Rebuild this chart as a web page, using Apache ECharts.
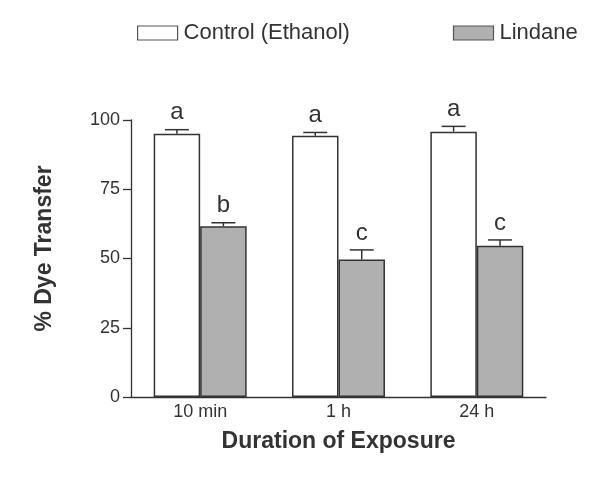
<!DOCTYPE html>
<html><head><meta charset="utf-8">
<script src="https://cdn.jsdelivr.net/npm/echarts@6/dist/echarts.min.js"></script>
<style>html,body{margin:0;padding:0;background:#fff}#c{width:600px;height:487px}</style>
</head><body><div id="c"></div>
<script>
var categories = ['10 min', '1 h', '24 h'];
var controlValues = [95.0, 94.3, 95.8];
var controlErr = [1.5, 1.2, 1.9];
var controlLetters = ['a', 'a', 'a'];
var lindaneValues = [61.6, 49.6, 54.6];
var lindaneErr = [1.3, 3.5, 2.1];
var lindaneLetters = ['b', 'c', 'c'];
var yTicks = [0, 25, 50, 75, 100];

var chart = echarts.init(document.getElementById('c'));
var font = 'Liberation Sans, Arial, sans-serif';
var gray = '#b0b0b0';

function errSeries(name, vals, errs, letters, seriesIdx) {
  var data = vals.map(function (v, i) { return [i, v, errs[i], letters[i]]; });
  return {
    type: 'custom', name: name + ' err', z: 5,
    data: data,
    renderItem: function (params, api) {
      var i = api.value(0), v = api.value(1), e = api.value(2);
      var letter = data[params.dataIndex][3];
      var base = api.coord([i, v]);
      var top = api.coord([i, v + e]);
      var bw = api.size([1, 0])[0] * 0.336;
      var x = base[0] + (seriesIdx === 0 ? -bw / 2 : bw / 2);
      var cap = 12;
      var st = { stroke: '#333', lineWidth: 1.5 };
      return { type: 'group', children: [
        { type: 'line', shape: { x1: x, y1: base[1], x2: x, y2: top[1] }, style: st },
        { type: 'line', shape: { x1: x - cap, y1: top[1], x2: x + cap, y2: top[1] }, style: st },
        { type: 'text', style: { text: letter, x: x, y: top[1] - 5, align: 'center', verticalAlign: 'bottom',
          font: '24px ' + font, fill: '#333' } }
      ] };
    }
  };
}

chart.setOption({
  animation: false,
  backgroundColor: '#fff',
  legend: {
    top: 17, left: 132, itemWidth: 40, itemHeight: 14, itemGap: 103, icon: 'rect',
    textStyle: { fontFamily: font, fontSize: 22, color: '#333', padding: [0, 0, 0, 1] },
    data: [
      { name: 'Control (Ethanol)', itemStyle: { color: '#fff', borderColor: '#555', borderWidth: 1.2 } },
      { name: 'Lindane', itemStyle: { color: gray, borderColor: '#555', borderWidth: 1.2 } }
    ]
  },
  grid: { left: 131, top: 120, width: 415, height: 277, containLabel: false },
  xAxis: {
    type: 'category', data: categories,
    name: 'Duration of Exposure', nameLocation: 'middle', nameGap: 33,
    nameTextStyle: { fontFamily: font, fontSize: 23, fontWeight: 'bold', color: '#333' },
    axisLine: { lineStyle: { color: '#333', width: 1.3 } },
    axisTick: { show: false },
    axisLabel: { fontFamily: font, fontSize: 18, color: '#333', margin: 6 }
  },
  yAxis: {
    type: 'value', min: 0, max: 100, interval: 25,
    name: '% Dye Transfer', nameLocation: 'middle', nameGap: 75, nameRotate: 90,
    nameTextStyle: { fontFamily: font, fontSize: 23, fontWeight: 'bold', color: '#333', padding: [0, 0, 0, 20] },
    axisLine: { show: true, lineStyle: { color: '#333', width: 1.3 } },
    axisTick: { show: true, length: 8, lineStyle: { color: '#333', width: 1.3 } },
    axisLabel: { fontFamily: font, fontSize: 18, color: '#333', margin: 11,
      formatter: function (v) { return yTicks.indexOf(v) >= 0 ? String(v) : ''; } },
    splitLine: { show: false }
  },
  series: [
    { type: 'bar', name: 'Control (Ethanol)', data: controlValues, barWidth: '33.6%', barGap: '0%',
      itemStyle: { color: '#fff', borderColor: '#333', borderWidth: 1.5 } },
    { type: 'bar', name: 'Lindane', data: lindaneValues, barWidth: '33.6%', barGap: '0%',
      itemStyle: { color: gray, borderColor: '#333', borderWidth: 1.5 } },
    errSeries('Control (Ethanol)', controlValues, controlErr, controlLetters, 0),
    errSeries('Lindane', lindaneValues, lindaneErr, lindaneLetters, 1)
  ]
});
</script></body></html>
